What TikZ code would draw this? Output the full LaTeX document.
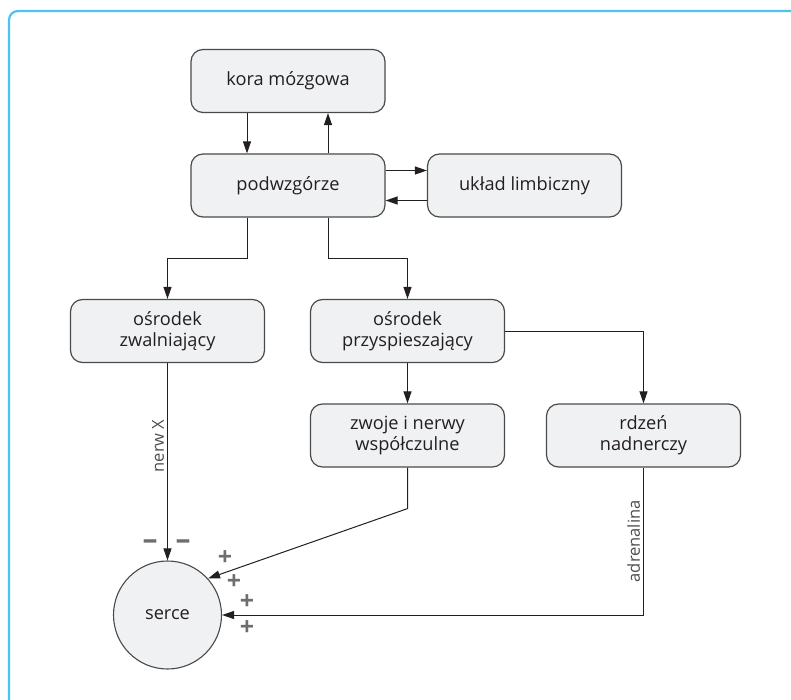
\documentclass[tikz,border=0pt]{standalone}
\usepackage{fontspec}
\setmainfont{Open Sans}
\usetikzlibrary{arrows.meta}
\definecolor{framecyan}{HTML}{4EC3EE}
\definecolor{boxfill}{HTML}{F0F1F3}
\definecolor{boxline}{HTML}{4A4A4A}
\definecolor{textdark}{HTML}{231F20}
\definecolor{labelgray}{HTML}{4D4D4F}
\definecolor{signgray}{HTML}{6D6E70}
\begin{document}
\begin{tikzpicture}[x=1pt,y=-1pt,
  box/.style={draw=boxline, line width=1.2pt, fill=boxfill, rounded corners=12pt,
    minimum width=194pt, minimum height=63pt, align=center, inner sep=0pt,
    font=\fontsize{18.2}{21}\selectfont, text=textdark},
  heart/.style={draw=boxline, line width=1.1pt, fill=boxfill, circle,
    minimum size=108pt, inner sep=0pt, font=\fontsize{18.2}{21}\selectfont, text=textdark},
  arr/.style={draw=textdark, line width=1pt, -{Triangle[length=12pt,width=8pt]}},
  edgelabel/.style={font=\fontsize{16.5}{19}\selectfont, text=labelgray, rotate=90, inner sep=3pt},
  sign/.style={font=\fontsize{25}{25}\selectfont\bfseries, text=signgray, inner sep=0pt},
  minussign/.style={font=\fontsize{30}{30}\selectfont\bfseries, text=signgray, inner sep=0pt},
  frame/.style={draw=framecyan, line width=2.2pt, rounded corners=9pt}]
  \useasboundingbox (0,0) rectangle (791,700);
  % outer panel edge
  \draw[frame] (9,700) -- (9,11) -- (791,11);

  % boxes
  \node[box] (kora)   at (288,81)    {kora mózgowa};
  \node[box] (podw)   at (288,185.5) {podwzgórze};
  \node[box] (limb)   at (524.5,185.5) {układ limbiczny};
  \node[box] (zwal)   at (167.5,331) {ośrodek\\zwalniający};
  \node[box] (przysp) at (407.5,331) {ośrodek\\przyspieszający};
  \node[box] (zwoje)  at (407.5,435.5) {zwoje i nerwy\\współczulne};
  \node[box] (rdzen)  at (643.5,435.5) {rdzeń\\nadnerczy};
  \node[heart] (serce) at (167.5,615) {serce};

  % connections between cortex, hypothalamus and limbic system
  \draw[arr] ([xshift=-41pt]kora.south) -- ([xshift=-41pt]podw.north);
  \draw[arr] ([xshift=40pt]podw.north) -- ([xshift=40pt]kora.south);
  \draw[arr] ([yshift=15pt]podw.east) -- ([yshift=15pt]limb.west);
  \draw[arr] ([yshift=-15pt]limb.west) -- ([yshift=-15pt]podw.east);

  % branches to the two centres
  \draw[arr] ([xshift=-41pt]podw.south) -- ++(0,41) -| (zwal.north);
  \draw[arr] ([xshift=40pt]podw.south) -- ++(0,41) -| (przysp.north);

  % sympathetic pathway
  \draw[arr] (przysp.south) -- (zwoje.north);
  \draw[arr] (przysp.east) -| (rdzen.north);

  % pathways to the heart
  \draw[arr] (zwal.south) -- node[edgelabel, pos=0.42, anchor=south] {nerw X} (serce.north);
  \draw[arr] (zwoje.south) -- ++(0,41) -- (serce.42);
  \draw[arr] (rdzen.south) |- node[edgelabel, pos=0.25, anchor=south] {adrenalina} (serce.east);

  % effect signs
  \node[minussign] (minusA) at (150,545) {–};
  \node[minussign] (minusB) at (183,545) {–};
  \node[sign] (plusA) at (225,558) {+};
  \node[sign] (plusB) at (234,582) {+};
  \node[sign] (plusC) at (247,602) {+};
  \node[sign] (plusD) at (247,628) {+};
\end{tikzpicture}
\end{document}
